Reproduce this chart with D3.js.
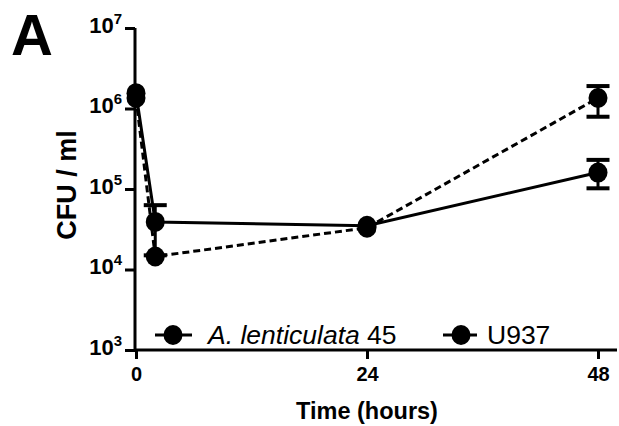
<!DOCTYPE html>
<html><head><meta charset="utf-8">
<script src="https://cdn.jsdelivr.net/npm/d3@7"></script>
<style>
body{margin:0;background:#fff;}
svg{display:block;font-family:"Liberation Sans",Arial,Helvetica,sans-serif;}
</style></head>
<body><svg id="c" width="619" height="426"></svg>
<script>
const times = [0, 2, 24, 48];
const xTicks = [0, 24, 48];
const yTicks = [1e3, 1e4, 1e5, 1e6, 1e7];
const seriesNames = ["A. lenticulata", "U937"];
const alMean = [1.55e6, 3.9e4, 3.5e4, 1.6e5];
const alLow  = [1.55e6, 1.5e4, 3.5e4, 1.02e5];
const alHigh = [1.55e6, 6.3e4, 3.5e4, 2.3e5];
const uMean  = [1.35e6, 1.45e4, 3.3e4, 1.35e6];
const uLow   = [1.35e6, 1.45e4, 3.3e4, 7.9e5];
const uHigh  = [1.35e6, 1.45e4, 3.3e4, 1.9e6];

const svg = d3.select("#c");
const x = d3.scaleLinear().domain([0, 48]).range([136, 598]);
const y = d3.scaleLog().domain([1e3, 1e7]).range([350, 28]);

// panel letter
svg.append("text").attr("x", 11).attr("y", 55).attr("font-size", 58).attr("font-weight", "bold").text("A");

// axes
const xAx = svg.append("g").attr("transform", "translate(0,350)")
  .call(d3.axisBottom(x).tickValues(xTicks).tickSize(9).tickPadding(4).tickFormat(d3.format("d")));
xAx.select(".domain").attr("d", "M135,0H617").attr("stroke-width", 3);
xAx.selectAll(".tick line").attr("stroke-width", 3);
xAx.selectAll(".tick text").attr("font-size", 20).attr("font-weight", "bold").attr("font-family", "inherit").attr("dy", "0.9em");

const yAx = svg.append("g").attr("transform", "translate(135,0)")
  .call(d3.axisLeft(y).tickValues(yTicks).tickSize(10).tickPadding(3));
yAx.select(".domain").attr("d", "M0,28V351.5").attr("stroke-width", 3);
yAx.selectAll(".tick line").attr("stroke-width", 3);
yAx.selectAll(".tick text").each(function(d){
  const t = d3.select(this).text(null).attr("font-family", "inherit").attr("font-weight", "bold").attr("dy", "0.42em");
  t.append("tspan").attr("font-size", 22).text("10");
  t.append("tspan").attr("font-size", 15).attr("dy", "-0.6em").text(Math.round(Math.log10(d)));
});

// axis titles
svg.append("text").attr("x", 367).attr("y", 419).attr("text-anchor", "middle")
  .attr("font-size", 23.5).attr("font-weight", "bold").text("Time (hours)");
svg.append("text").attr("transform", "translate(75.5,185) rotate(-90)").attr("text-anchor", "middle")
  .attr("font-size", 27).attr("font-weight", "bold").text("CFU / ml");

const series = [
  {mean: alMean, low: alLow, high: alHigh, dash: null},
  {mean: uMean, low: uLow, high: uHigh, dash: "7,4"}
];
const line = d3.line().x((d, i) => x(times[i])).y(d => y(d));
series.forEach(s => {
  svg.append("path").datum(s.mean).attr("d", line).attr("fill", "none")
    .attr("stroke", "#000").attr("stroke-width", 3).attr("stroke-dasharray", s.dash);
});
series.forEach(s => {
  const g = svg.append("g");
  times.forEach((t, i) => {
    const cx = x(t);
    if (s.high[i] > s.low[i]) {
      g.append("line").attr("x1", cx).attr("x2", cx).attr("y1", y(s.low[i])).attr("y2", y(s.high[i]))
        .attr("stroke", "#000").attr("stroke-width", 3);
      [s.low[i], s.high[i]].forEach(v => g.append("line").attr("x1", cx - 11.5).attr("x2", cx + 11.5)
        .attr("y1", y(v)).attr("y2", y(v)).attr("stroke", "#000").attr("stroke-width", 4));
    }
    g.append("ellipse").attr("cx", cx).attr("cy", y(s.mean[i])).attr("rx", 9.5).attr("ry", 10).attr("fill", "#000");
  });
});

// legend
const lg = svg.append("g");
lg.append("line").attr("x1", 155).attr("x2", 192).attr("y1", 335).attr("y2", 335).attr("stroke", "#000").attr("stroke-width", 3);
lg.append("ellipse").attr("cx", 173).attr("cy", 335).attr("rx", 9.5).attr("ry", 10).attr("fill", "#000");
const lt = lg.append("text").attr("x", 208).attr("y", 344).attr("font-size", 26.5);
lt.append("tspan").attr("font-style", "italic").text(seriesNames[0]);
lt.append("tspan").text(" 45");
lg.append("line").attr("x1", 443).attr("x2", 477).attr("y1", 335).attr("y2", 335).attr("stroke", "#000").attr("stroke-width", 3).attr("stroke-dasharray", "10,14");
lg.append("ellipse").attr("cx", 461).attr("cy", 335).attr("rx", 9.5).attr("ry", 10).attr("fill", "#000");
lg.append("text").attr("x", 487).attr("y", 344).attr("font-size", 26.5).text(seriesNames[1]);
</script></body></html>
